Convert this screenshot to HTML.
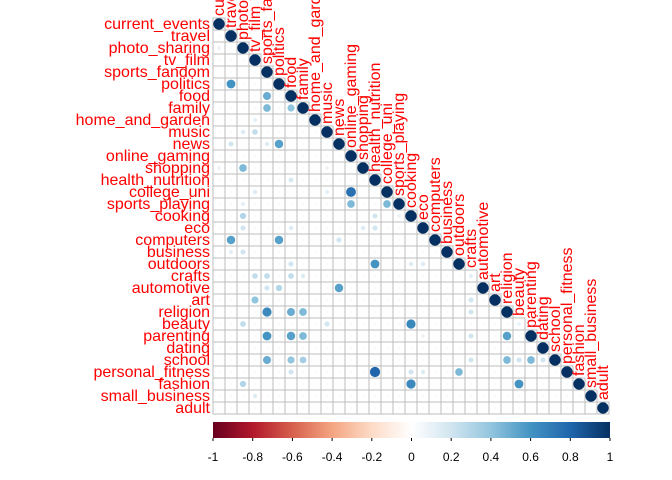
<!DOCTYPE html>
<html><head><meta charset="utf-8"><style>
html,body{margin:0;padding:0;background:#fff;}
svg{display:block;font-family:"Liberation Sans",Arial,sans-serif;}
</style></head><body>
<svg id="chart" width="672" height="480" viewBox="0 0 672 480" xmlns="http://www.w3.org/2000/svg">
<defs>
<linearGradient id="rdbu" x1="0" x2="1" y1="0" y2="0">
<stop offset="0" stop-color="#67001F"/><stop offset="0.1" stop-color="#B2182B"/><stop offset="0.2" stop-color="#D6604D"/><stop offset="0.3" stop-color="#F4A582"/><stop offset="0.4" stop-color="#FDDBC7"/><stop offset="0.5" stop-color="#FFFFFF"/><stop offset="0.6" stop-color="#D1E5F0"/><stop offset="0.7" stop-color="#92C5DE"/><stop offset="0.8" stop-color="#4393C3"/><stop offset="0.9" stop-color="#2166AC"/><stop offset="1" stop-color="#053061"/>
</linearGradient>
</defs>
<g id="grid"></g>
<g id="marks"></g>
<g id="rowlabels"></g>
<g id="collabels"></g>
<g id="legend"></g>
</svg>
<script>
const variables = ["current_events","travel","photo_sharing","tv_film","sports_fandom","politics","food","family","home_and_garden","music","news","online_gaming","shopping","health_nutrition","college_uni","sports_playing","cooking","eco","computers","business","outdoors","crafts","automotive","art","religion","beauty","parenting","dating","school","personal_fitness","fashion","small_business","adult"];
const pairRows = [2,5,6,7,7,8,9,9,10,10,10,12,12,12,13,14,14,14,15,15,15,16,16,16,17,17,17,17,18,18,18,19,19,20,20,20,20,21,21,21,21,21,22,22,22,23,23,24,24,24,24,25,25,25,25,26,26,26,26,26,26,28,28,28,28,28,28,28,28,29,29,29,29,29,30,30,30,31];
const pairCols = [0,1,4,4,6,3,2,3,1,4,5,0,2,9,6,3,9,11,2,11,14,2,13,15,2,6,12,13,1,5,10,1,2,6,13,16,17,3,4,6,7,21,5,4,10,3,21,4,6,7,21,2,9,16,25,4,6,7,21,24,17,4,6,7,21,24,25,26,27,6,13,16,17,20,2,16,25,3];
const pairValues = [0.1,0.6,0.5,0.45,0.4,0.12,0.15,0.25,0.2,0.15,0.55,0.1,0.45,0.1,0.18,0.15,0.12,0.75,0.12,0.45,0.45,0.3,0.2,0.1,0.2,0.15,0.15,0.2,0.55,0.55,0.2,0.12,0.2,0.2,0.6,0.15,0.15,0.25,0.25,0.25,0.15,0.12,0.3,0.2,0.55,0.4,0.2,0.65,0.5,0.45,0.2,0.25,0.2,0.65,0.1,0.6,0.55,0.45,0.2,0.55,0.1,0.5,0.4,0.35,0.2,0.45,0.2,0.45,0.2,0.2,0.8,0.2,0.15,0.45,0.3,0.65,0.6,0.15];
const baselineCorr = 0.04;
const legendTicks = [-1,-0.8,-0.6,-0.4,-0.2,0,0.2,0.4,0.6,0.8,1];

const NS="http://www.w3.org/2000/svg";
const cell=12, x0=213, y0=18;
const cx = j => x0 + cell*j + cell/2;
const cy = i => y0 + cell*i + cell/2;
const rad = v => 5.7*Math.sqrt(Math.abs(v));
const stops=["#67001F","#B2182B","#D6604D","#F4A582","#FDDBC7","#FFFFFF","#D1E5F0","#92C5DE","#4393C3","#2166AC","#053061"];
function hex(c){return [1,3,5].map(k=>parseInt(c.substr(k,2),16));}
function color(v){
  const t=(v+1)/2*10, k=Math.min(9,Math.floor(t)), f=t-k;
  const a=hex(stops[k]), b=hex(stops[k+1]);
  return "rgb("+a.map((x,m)=>Math.round(x+(b[m]-x)*f)).join(",")+")";
}
function mk(tag,attrs,parent){const e=document.createElementNS(NS,tag);for(const k in attrs)e.setAttribute(k,attrs[k]);parent.appendChild(e);return e;}

const n=variables.length;
const M=[];
for(let i=0;i<n;i++){M.push([]);for(let j=0;j<n;j++)M[i].push(i===j?1:baselineCorr);}
for(let k=0;k<pairRows.length;k++){M[pairRows[k]][pairCols[k]]=pairValues[k];}

const grid=document.getElementById('grid'), marks=document.getElementById('marks');
for(let i=0;i<n;i++){
  for(let j=0;j<=i;j++){
    const r=mk('rect',{x:x0+cell*j,y:y0+cell*i,width:cell,height:cell,fill:'none',stroke:'#BEBEBE','stroke-width':1},grid);
    
    
  }
}
for(let i=0;i<n;i++){
  for(let j=0;j<=i;j++){
    const v=M[i][j];
    const c=mk('circle',{cx:cx(j),cy:cy(i),r:rad(v),fill:color(v)},marks);
    
    
  }
}
const rl=document.getElementById('rowlabels'), cl=document.getElementById('collabels');
variables.forEach((name,i)=>{
  const t=mk('text',{x:x0-3,y:cy(i)+5,'text-anchor':'end','font-size':16,fill:'#FF0000'},rl);
  t.textContent=name;
  
  
  const px=cx(i)+5, py=y0+cell*i-2;
  const u=mk('text',{x:px,y:py,'font-size':16,fill:'#FF0000',transform:'rotate(-90 '+px+' '+py+')'},cl);
  u.textContent=name;
  
  
});
const lg=document.getElementById('legend');
const lx0=213, lx1=610, ly=422, lh=16;
const bar=mk('rect',{x:lx0,y:ly,width:lx1-lx0,height:lh,fill:'url(#rdbu)'},lg);


const lxs=v=>lx0+(v+1)/2*(lx1-lx0);
legendTicks.forEach(v=>{
  const tk=mk('line',{x1:lxs(v),x2:lxs(v),y1:ly+lh,y2:ly+lh+3,stroke:'#000','stroke-width':1},lg);
  
  
  const t=mk('text',{x:lxs(v),y:461,'text-anchor':'middle','font-size':12,fill:'#000'},lg);
  t.textContent=String(v);
  
  
});
</script>
</body></html>
